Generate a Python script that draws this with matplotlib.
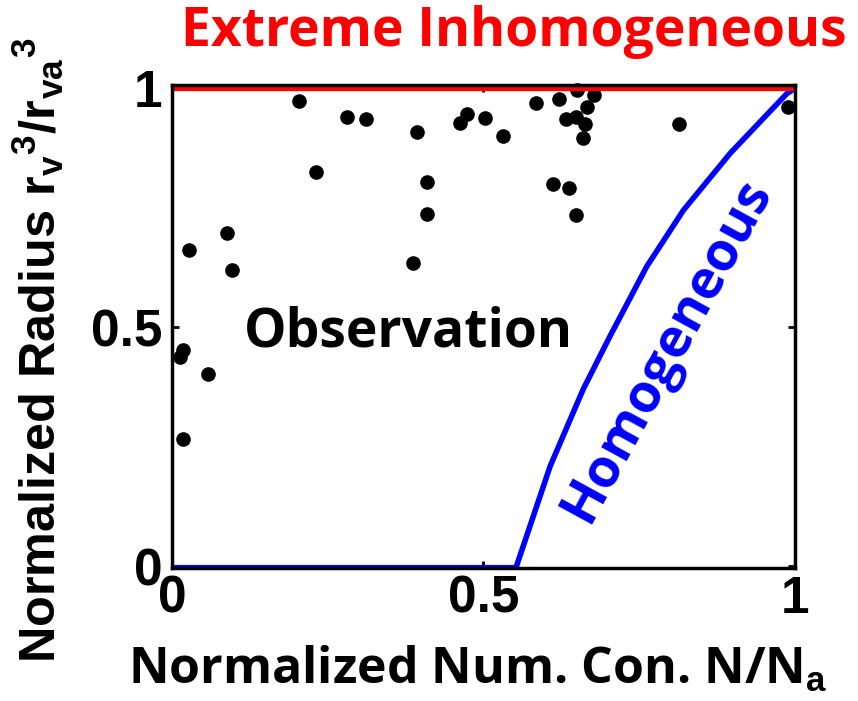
import matplotlib
matplotlib.use("Agg")
import matplotlib.pyplot as plt

# observed points (N/Na, rv^3/rva^3)
obs_x = [0.204, 0.281, 0.311, 0.393, 0.463, 0.473, 0.502, 0.231, 0.410, 0.410,
         0.089, 0.027, 0.097, 0.387, 0.531, 0.584, 0.621, 0.650, 0.677, 0.666,
         0.633, 0.648, 0.663, 0.660, 0.814, 0.989, 0.612, 0.638, 0.648, 0.018,
         0.012, 0.057, 0.018]
obs_y = [0.974, 0.941, 0.935, 0.909, 0.928, 0.947, 0.939, 0.825, 0.803, 0.738,
         0.698, 0.662, 0.620, 0.635, 0.900, 0.970, 0.978, 0.997, 0.987, 0.961,
         0.936, 0.941, 0.926, 0.897, 0.926, 0.962, 0.800, 0.791, 0.735, 0.453,
         0.438, 0.402, 0.267]

# homogeneous mixing line
homo_x = [0.553, 0.607, 0.660, 0.703, 0.762, 0.821, 0.896, 0.987, 1.0]
homo_y = [0.0, 0.209, 0.370, 0.481, 0.627, 0.745, 0.864, 0.989, 1.0]
base_x = [0.0, 0.553]
base_y = [0.0, 0.0]

# extreme inhomogeneous line
inhomo_x = [0.0, 1.0]
inhomo_y = [1.0, 1.0]

xticks = [0, 0.5, 1]
xtick_labels = ['0', '0.5', '1']
yticks = [0, 0.5, 1]
ytick_labels = ['0', '0.5', '1']

plt.rcParams['mathtext.fontset'] = 'custom'
plt.rcParams['mathtext.bf'] = 'Liberation Sans:bold'
plt.rcParams['mathtext.rm'] = 'Liberation Sans:bold'

fig = plt.figure(figsize=(8.58, 7.01), dpi=100)
ax = fig.add_axes([0.2005, 0.1897, 0.726, 0.689])

ax.plot(base_x, base_y, color='blue', linewidth=1.6, zorder=3)
ax.plot(homo_x, homo_y, color='blue', linewidth=4, zorder=3, solid_joinstyle='round')
ax.plot(obs_x, obs_y, 'o', color='black', markersize=9.5, zorder=2, clip_on=False)
ax.plot(inhomo_x, inhomo_y, color='red', linewidth=3.8, zorder=4)

ax.set_xlim(0, 1)
ax.set_ylim(-0.004, 1.007)

tick_font = dict(fontfamily='Liberation Sans', fontweight='bold', fontsize=37)
ax.set_xticks(xticks)
ax.set_xticklabels(xtick_labels, **tick_font)
ax.set_yticks(yticks)
ax.set_yticklabels(ytick_labels, **tick_font)
ax.tick_params(direction='in', length=5, width=2, top=True, right=True)
ax.tick_params(axis='x', pad=5)
ax.tick_params(axis='y', pad=7)

for s in ax.spines.values():
    s.set_linewidth(2.5)
    s.set_zorder(5)

ax.set_xlabel(r'Normalized Num. Con. N/N$_\mathbf{a}$', fontfamily='Open Sans',
              fontweight='bold', fontsize=36, va='center')
ax.xaxis.set_label_coords(0.491, -0.212)
ax.set_ylabel(r'Normalized Radius $\mathbf{r_v{}^3/r_{va}{}^3}$', fontfamily='Liberation Sans',
              fontweight='bold', fontsize=36.3, va='center')
ax.yaxis.set_label_coords(-0.215, 0.45)

ax.text(0.379, 0.49, 'Observation', fontfamily='Open Sans', fontweight='bold',
        fontsize=38.5, ha='center', va='center')
ax.text(0.795, 0.451, 'Homogeneous', fontfamily='Open Sans', fontweight='bold',
        fontsize=38.5, color='blue', rotation=61.4, ha='center', va='center',
        rotation_mode='anchor')

fig.text(0.599, 0.955, 'Extreme Inhomogeneous', fontfamily='Open Sans', fontweight='bold',
         fontsize=38.5, color='red', ha='center', va='center')

fig.savefig('out.png', dpi=100)
